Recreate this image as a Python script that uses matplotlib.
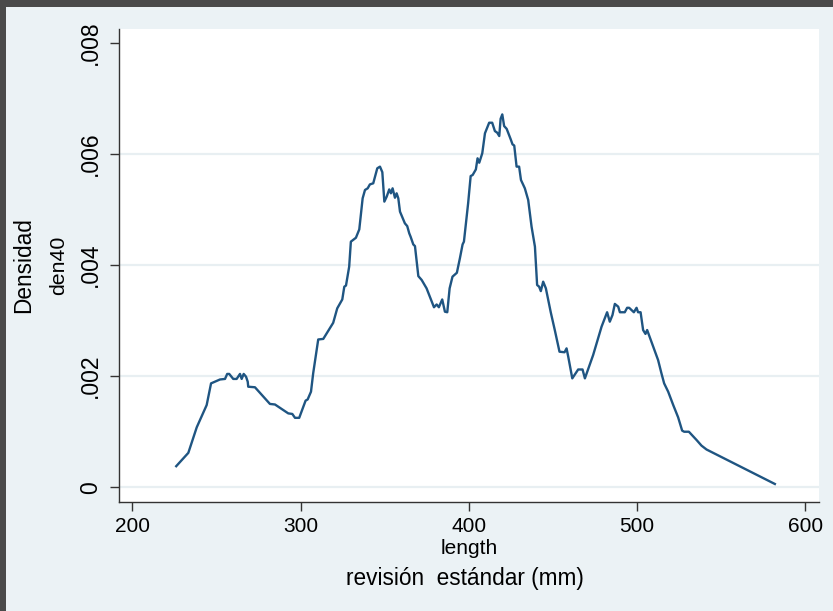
import matplotlib
matplotlib.use("Agg")
import matplotlib.pyplot as plt
from matplotlib.patches import Rectangle

# ---- data ----
length = [226.1, 233.3, 238.3, 244.2, 246.8, 252.1, 255.1, 256.4, 257.6, 260.0,
          262.0, 264.0, 265.0, 266.2, 267.6, 268.6, 268.9, 272.9, 281.8, 284.8,
          292.7, 295.1, 296.7, 299.2, 303.0, 304.2, 306.2, 307.5, 309.6, 310.5,
          313.5, 319.4, 321.8, 324.8, 326.0, 327.0, 328.9, 329.9, 332.9, 334.9,
          336.9, 338.3, 339.9, 341.2, 343.2, 345.6, 347.2, 348.6, 349.8, 351.2,
          352.7, 353.7, 354.7, 356.1, 357.1, 358.1, 359.1, 362.0, 363.4, 364.6,
          365.4, 367.0, 368.0, 370.0, 372.0, 374.9, 379.3, 380.9, 382.2, 384.2,
          385.8, 387.2, 388.6, 390.3, 392.9, 394.7, 396.3, 397.1, 398.3, 399.6,
          401.1, 402.3, 404.2, 405.2, 406.2, 408.0, 409.6, 412.1, 413.9, 415.5,
          416.9, 418.1, 418.9, 419.9, 421.0, 422.5, 424.8, 426.0, 427.0, 428.4,
          429.9, 431.0, 433.3, 435.3, 437.3, 439.3, 440.6, 441.8, 442.8, 444.2,
          445.8, 448.7, 451.1, 453.9, 456.9, 458.1, 459.1, 461.5, 463.0, 465.0,
          467.6, 469.0, 473.9, 478.9, 482.2, 483.8, 485.4, 486.8, 488.8, 489.8,
          492.7, 494.1, 495.3, 498.1, 499.7, 500.6, 502.1, 503.6, 505.0, 506.0,
          509.6, 512.5, 514.5, 516.1, 518.5, 521.5, 524.4, 526.8, 528.0, 530.8,
          535.4, 538.3, 541.3, 581.9]
den40 = [0.00038, 0.00062, 0.00108, 0.00148, 0.00187, 0.00194, 0.00195, 0.00204, 0.00204, 0.00195,
         0.00195, 0.00204, 0.00195, 0.00204, 0.00199, 0.00190, 0.00181, 0.00180, 0.00150, 0.00149,
         0.00133, 0.00132, 0.00125, 0.00125, 0.00156, 0.00158, 0.00172, 0.00205, 0.00247, 0.00266,
         0.00267, 0.00296, 0.00322, 0.00338, 0.00361, 0.00363, 0.00397, 0.00442, 0.00449, 0.00464,
         0.00520, 0.00535, 0.00538, 0.00545, 0.00547, 0.00574, 0.00577, 0.00567, 0.00514, 0.00523,
         0.00536, 0.00529, 0.00538, 0.00521, 0.00529, 0.00520, 0.00496, 0.00475, 0.00470, 0.00457,
         0.00451, 0.00437, 0.00434, 0.00380, 0.00373, 0.00358, 0.00324, 0.00329, 0.00324, 0.00338,
         0.00316, 0.00315, 0.00358, 0.00379, 0.00386, 0.00412, 0.00437, 0.00442, 0.00475, 0.00511,
         0.00560, 0.00562, 0.00572, 0.00592, 0.00584, 0.00601, 0.00637, 0.00656, 0.00656, 0.00641,
         0.00638, 0.00632, 0.00663, 0.00671, 0.00650, 0.00645, 0.00627, 0.00617, 0.00615, 0.00577,
         0.00577, 0.00553, 0.00538, 0.00517, 0.00469, 0.00433, 0.00364, 0.00361, 0.00353, 0.00370,
         0.00358, 0.00315, 0.00283, 0.00244, 0.00243, 0.00250, 0.00235, 0.00196, 0.00203, 0.00212,
         0.00212, 0.00196, 0.00238, 0.00289, 0.00315, 0.00298, 0.00310, 0.00330, 0.00325, 0.00315,
         0.00315, 0.00323, 0.00323, 0.00315, 0.00323, 0.00315, 0.00315, 0.00283, 0.00276, 0.00283,
         0.00253, 0.00229, 0.00205, 0.00187, 0.00172, 0.00148, 0.00126, 0.00102, 0.00100, 0.00100,
         0.00085, 0.00075, 0.00068, 0.00006]

xticks = [200, 300, 400, 500, 600]
xticklabels = ["200", "300", "400", "500", "600"]
yticks = [0, 0.002, 0.004, 0.006, 0.008]
yticklabels = ["0", ".002", ".004", ".006", ".008"]
grid_y = [0, 0.002, 0.004, 0.006]

# ---- figure ----
W, H = 833, 611
plt.rcParams['font.family'] = ['Liberation Sans', 'DejaVu Sans']
fig = plt.figure(figsize=(W / 100, H / 100), dpi=100)
bg = '#ebf2f5'
fig.patch.set_facecolor(bg)
dark = '#4a4a4a'
fig.patches.append(Rectangle((0, 1 - 7 / H), 1, 7 / H, transform=fig.transFigure,
                             facecolor=dark, edgecolor='none', zorder=0))
fig.patches.append(Rectangle((0, 0), 6 / W, 1, transform=fig.transFigure,
                             facecolor=dark, edgecolor='none', zorder=0))

L, R, T, B = 119.3, 818.7, 29.3, 501.7
ax = fig.add_axes([L / W, 1 - B / H, (R - L) / W, (B - T) / H])
ax.set_facecolor('white')
ax.set_xlim(192.27, 607.96)
ax.set_ylim(-0.000259, 0.008241)

for g in grid_y:
    ax.axhline(g, color='#e8eff2', lw=1.6, zorder=1)

ax.plot(length, den40, color='#1f5582', lw=1.7, zorder=3, solid_joinstyle='round')

for s in ['top', 'right']:
    ax.spines[s].set_visible(False)
for s in ['left', 'bottom']:
    ax.spines[s].set_color('#333333')
    ax.spines[s].set_linewidth(1.0)

ax.set_xticks(xticks)
ax.set_xticklabels(xticklabels, fontsize=15)
ax.set_yticks(yticks)
ax.set_yticklabels(yticklabels, fontsize=16.5, rotation=90, va='center')
ax.tick_params(axis='both', length=6.2, width=1.0, color='#333333', labelcolor='black')
ax.tick_params(axis='x', pad=5)
ax.tick_params(axis='y', pad=6)

def ftext(px, py, s, **kw):
    fig.text(px / W, 1 - py / H, s, ha='center', va='center', **kw)

ftext(24, 265.5, 'Densidad', rotation=90, fontsize=16.3)
ftext(58.5, 265.5, 'den40', rotation=90, fontsize=15.3)
ftext(469, 548, 'length', fontsize=15)
ftext(465, 578, 'revisión  estándar (mm)', fontsize=16.3)

fig.savefig('out.png', dpi=100, facecolor=fig.get_facecolor())
